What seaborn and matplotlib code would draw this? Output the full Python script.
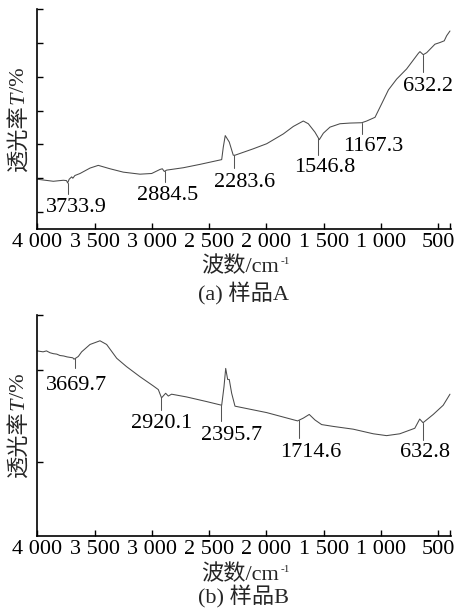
import numpy as np
import pandas as pd
import matplotlib
matplotlib.use("Agg")
import matplotlib.pyplot as plt
import seaborn as sns

# ---------------- data ----------------
# Sample A : wavenumber (cm-1) and transmittance (arbitrary units)
wn_A = [4000, 3860, 3773, 3745, 3735, 3722, 3700, 3690, 3672, 3627, 3540, 3468,
        3366, 3250, 3104, 3002, 2929, 2909, 2892, 2871, 2726, 2580, 2391, 2377,
        2360, 2325, 2290, 2275, 2115, 1998, 1853, 1766, 1679, 1635, 1577, 1539,
        1504, 1446, 1359, 1271, 1169, 1126, 1053, 995, 936, 864, 777, 675, 661,
        632, 602, 530, 486, 449, 428, 399]
T_A = [1.47, 1.41, 1.44, 1.43, 1.36, 1.47, 1.54, 1.50, 1.58, 1.64, 1.80, 1.88,
       1.78, 1.68, 1.62, 1.64, 1.76, 1.78, 1.70, 1.74, 1.81, 1.91, 2.05, 2.42,
       2.76, 2.57, 2.18, 2.18, 2.37, 2.52, 2.81, 3.03, 3.19, 3.11, 2.86, 2.64,
       2.83, 3.01, 3.11, 3.13, 3.14, 3.19, 3.30, 3.70, 4.11, 4.43, 4.73, 5.19,
       5.24, 5.15, 5.21, 5.46, 5.51, 5.56, 5.71, 5.85]
peaks_A = [3733.9, 2884.5, 2283.6, 1546.8, 1167.3, 632.2]

# Sample B
wn_B = [4000, 3950, 3920, 3889, 3860, 3830, 3802, 3770, 3740, 3715, 3690, 3680,
        3660, 3642, 3613, 3540, 3453, 3395, 3307, 3222, 3104, 2988, 2944, 2916,
        2880, 2857, 2828, 2697, 2523, 2391, 2371, 2356, 2339, 2325, 2304, 2275,
        1998, 1729, 1679, 1627, 1577, 1519, 1417, 1243, 1068, 952, 837, 706,
        663, 634, 545, 458, 399]
T_B = [2.01, 2.00, 2.01, 1.99, 1.98, 1.975, 1.96, 1.955, 1.945, 1.94, 1.935, 1.92,
       1.935, 1.95, 2.00, 2.08, 2.12, 2.08, 1.93, 1.84, 1.73, 1.63, 1.59, 1.50,
       1.55, 1.52, 1.54, 1.51, 1.46, 1.42, 1.62, 1.82, 1.70, 1.70, 1.55, 1.41,
       1.34, 1.25, 1.28, 1.32, 1.26, 1.21, 1.19, 1.16, 1.11, 1.09, 1.11, 1.17,
       1.27, 1.23, 1.32, 1.42, 1.54]
peaks_B = [3669.7, 2920.1, 2395.7, 1714.6, 632.8]

x_ticks = [4000, 3500, 3000, 2500, 2000, 1500, 1000, 500]
x_tick_labels = ["4 000", "3 500", "3 000", "2 500", "2 000", "1 500", "1 000", "500"]
y_ticks_A = [0.5, 1.5, 2.5, 3.5, 4.5, 5.5, 6.5]
y_ticks_B = [0.8, 1.8, 2.4]

ylabel_cjk = "透光率"
xlabel_text = "波数/cm"
caption_A = "(a) 样品A"
caption_B = "(b) 样品B"

# ---------------- layout (label placement) ----------------
labA_x = [3658, 2860, 2192, 1490, 1071, 591]
labA_base = [0.50, 0.853, 1.235, 1.676, 2.294, 4.088]
labA_lineend = [1.03, 1.39, 1.79, 2.18, 2.81, 4.63]

labB_x = [3658, 2916, 2301, 1613, 620]
labB_base = [1.587, 1.174, 1.043, 0.859, 0.859]
labB_lineend = [1.826, 1.37, 1.25, 1.065, 1.04]

W, H = 458, 610
sns.set_theme(style="ticks")
SERIF = "Liberation Serif"
CJK = "Noto Sans CJK SC"
plt.rcParams["font.family"] = [SERIF, CJK]
plt.rcParams["axes.unicode_minus"] = False

fig = plt.figure(figsize=(W / 100, H / 100), dpi=100)
fig.patch.set_facecolor("white")

FS = 16
CURVE = "#4a4a4a"


def px(x, y):
    return x / W, 1 - y / H


def make_panel(rect, wn, T, yticks, ylim, peaks, lx, lb, le):
    ax = fig.add_axes(rect)
    ax.set_facecolor("white")
    df = pd.DataFrame({"wn": wn, "T": T})
    sns.lineplot(data=df, x="wn", y="T", ax=ax, color=CURVE, linewidth=0.75,
                 estimator=None, sort=False)
    ax.set_xlim(4000, 390)
    ax.set_ylim(*ylim)
    ax.set_xticks(x_ticks)
    ax.set_xticklabels(x_tick_labels, fontsize=FS, family=SERIF)
    ax.set_xticks([400], minor=True)
    ax.set_yticks(yticks)
    ax.set_yticklabels([])
    ax.set_xlabel("")
    ax.set_ylabel("")
    for s in ["top", "right"]:
        ax.spines[s].set_visible(False)
    for s in ["left", "bottom"]:
        ax.spines[s].set_color("black")
        ax.spines[s].set_linewidth(1.2)
    ax.tick_params(axis="both", which="both", direction="in", length=4.5,
                   width=1.0, color="black", pad=3, labelcolor="black")
    ax.tick_params(axis="x", which="minor", length=4.5)
    wa = np.array(wn)[::-1]
    ta = np.array(T)[::-1]
    for p, x, b, e in zip(peaks, lx, lb, le):
        top = np.interp(p, wa, ta)
        ax.plot([p, p], [top, e], color="#555555", lw=0.75)
        ax.text(x, b, f"{p:.1f}", ha="center", va="baseline", fontsize=FS,
                family=SERIF, color="black")
    return ax


axA = make_panel([37.3 / W, 1 - 229 / H, (451 - 37.3) / W, 220 / H],
                 wn_A, T_A, y_ticks_A, (0, 6.5), peaks_A, labA_x, labA_base, labA_lineend)
axB = make_panel([37.3 / W, 1 - 536 / H, (451 - 37.3) / W, 221 / H],
                 wn_B, T_B, y_ticks_B, (0, 2.4), peaks_B, labB_x, labB_base, labB_lineend)


def ylabel(xc, ybottom):
    t1 = fig.text(*px(xc, ybottom), ylabel_cjk, rotation=90, ha="center", va="bottom",
                  fontsize=FS, family=[CJK])
    a2 = fig.add_artist(matplotlib.text.Annotation(
        "T", xy=(0.92, 1.0), xycoords=t1, ha="right", va="bottom", rotation=90,
        fontsize=FS, family=SERIF, style="italic"))
    fig.add_artist(matplotlib.text.Annotation(
        "/%", xy=(1.0, 1.0), xycoords=a2, ha="right", va="bottom", rotation=90,
        fontsize=FS, family=SERIF))


def xlabel(xc, yc):
    t = fig.text(*px(xc, yc), xlabel_text, ha="center", va="center", fontsize=FS,
                 family=[SERIF, CJK])
    fig.add_artist(matplotlib.text.Annotation(
        "-1", xy=(1.0, 0.55), xycoords=t, xytext=(1, 0), textcoords="offset points",
        ha="left", va="bottom", fontsize=8, family=SERIF))


ylabel(19, 171)
ylabel(19, 477)
xlabel(240, 267)
xlabel(240, 575)
fig.text(*px(244, 294), caption_A, ha="center", va="center", fontsize=FS, family=[SERIF, CJK])
fig.text(*px(244, 597), caption_B, ha="center", va="center", fontsize=FS, family=[SERIF, CJK])

fig.savefig("out.png", dpi=100, facecolor="white")
